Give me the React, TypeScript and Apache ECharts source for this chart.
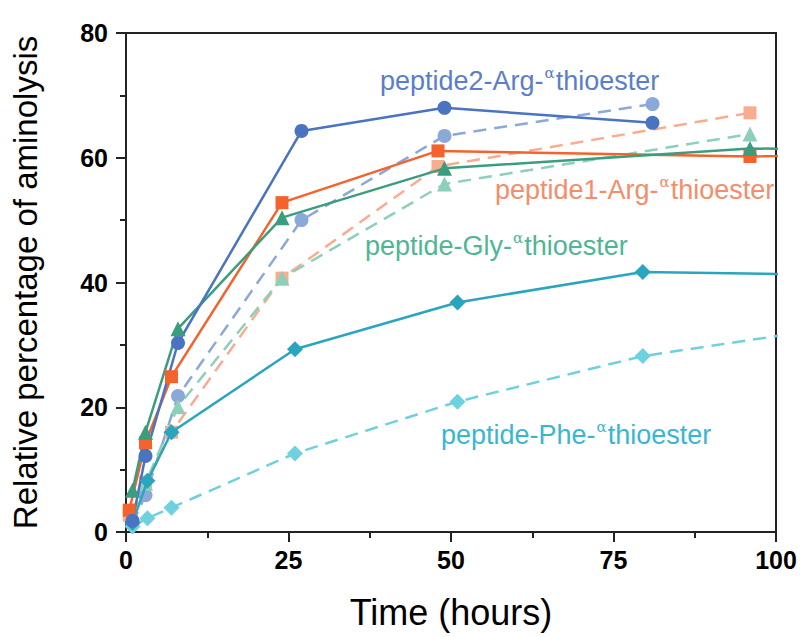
import React, { useEffect, useRef } from "react";
import * as echarts from "echarts";

const xTicks = [0, 25, 50, 75, 100];
const yTicks = [0, 20, 40, 60, 80];

// [hours, %]
const p2Solid = [[1, 1.8], [3, 12.2], [8, 30.3], [27, 64.3], [49, 68.0], [81, 65.6]];
const p2Dash = [[1, 1.3], [3, 5.9], [8, 21.8], [27, 50.0], [49, 63.5], [81, 68.6]];
const p1Solid = [[0.5, 3.5], [3, 14.3], [7, 24.9], [24, 52.8], [48, 61.1], [96, 60.2], [125, 60.8]];
const p1Dash = [[0.5, 2.7], [3, 8.0], [7, 16.0], [24, 40.7], [48, 58.6], [96, 67.2]];
const glySolid = [[1, 6.7], [3, 16.0], [8, 32.6], [24, 50.4], [49, 58.3], [96, 61.5], [125, 61.0]];
const glyDash = [[1, 3.0], [3, 7.8], [8, 20.1], [24, 40.7], [49, 55.8], [96, 63.8]];
const pheSolid = [[1, 1.5], [3.3, 8.2], [7, 16.0], [26, 29.3], [51, 36.8], [79.5, 41.7], [125, 41.0]];
const pheDash = [[1, 0.9], [3.3, 2.2], [7, 3.9], [26, 12.6], [51, 20.9], [79.5, 28.2], [125, 35.3]];

const FONT = "'Liberation Sans', Arial, Helvetica, sans-serif";

function mk(name: string, data: number[][], color: string, symbol: string, size: number, dashed: boolean) {
  return {
    name,
    type: "line",
    data,
    symbol,
    symbolSize: size,
    clip: true,
    itemStyle: { color },
    lineStyle: { color, width: 2.5, type: dashed ? [13, 8] : "solid" },
    z: dashed ? 2 : 3,
  };
}

function label(x: number, y: number, pre: string, color: string) {
  return {
    type: "text",
    x,
    y,
    style: {
      text: `{a|${pre}}{s|α}{a|thioester}`,
      fill: color,
      verticalAlign: "middle",
      rich: {
        a: { fontSize: 27, fontFamily: FONT, fill: color, lineHeight: 31 },
        s: { fontSize: 15, fontFamily: "'DejaVu Serif', serif", fill: color, verticalAlign: "top", lineHeight: 31, padding: [0, 1, 0, 1] },
      },
    },
    z: 10,
  };
}

export default function App() {
  const ref = useRef<HTMLDivElement>(null);
  useEffect(() => {
    if (!ref.current) return;
    const chart = echarts.init(ref.current, null, { renderer: "svg" });
    chart.setOption({
      animation: false,
      backgroundColor: "#fff",
      grid: { left: 126, right: 27, top: 33, bottom: 105, show: true, borderColor: "#222", borderWidth: 2 },
      xAxis: {
        type: "value",
        min: 0,
        max: 100,
        interval: 25,
        name: "Time (hours)",
        nameLocation: "middle",
        nameGap: 62,
        nameTextStyle: { fontSize: 36, fontFamily: FONT, color: "#000" },
        axisLine: { lineStyle: { color: "#222", width: 2 } },
        axisTick: { inside: false, length: 10, lineStyle: { color: "#222", width: 2 } },
        minorTick: { show: true, splitNumber: 2, length: 6, lineStyle: { color: "#222", width: 2 } },
        splitLine: { show: false },
        axisLabel: { fontSize: 25, fontWeight: "bold", fontFamily: FONT, color: "#000", margin: 15, formatter: (v: number) => (xTicks.includes(v) ? String(v) : "") },
      },
      yAxis: {
        type: "value",
        min: 0,
        max: 80,
        interval: 20,
        name: "Relative percentage of aminolysis",
        nameLocation: "middle",
        nameGap: 84,
        nameTextStyle: { fontSize: 33, fontFamily: FONT, color: "#000" },
        axisLine: { lineStyle: { color: "#222", width: 2 } },
        axisTick: { inside: false, length: 10, lineStyle: { color: "#222", width: 2 } },
        minorTick: { show: true, splitNumber: 2, length: 6, lineStyle: { color: "#222", width: 2 } },
        splitLine: { show: false },
        axisLabel: { fontSize: 25, fontWeight: "bold", fontFamily: FONT, color: "#000", margin: 18, formatter: (v: number) => (yTicks.includes(v) ? String(v) : "") },
      },
      series: [
        mk("peptide2 dashed", p2Dash, "#8aa9d8", "circle", 14, true),
        mk("peptide1 dashed", p1Dash, "#f9ac90", "rect", 13, true),
        mk("Gly dashed", glyDash, "#8dd0b9", "triangle", 15, true),
        mk("Phe dashed", pheDash, "#6fd0de", "diamond", 16, true),
        mk("Phe", pheSolid, "#2aa5bf", "diamond", 16, false),
        mk("peptide1", p1Solid, "#f4622d", "rect", 13, false),
        mk("Gly", glySolid, "#3a9e7e", "triangle", 15, false),
        mk("peptide2", p2Solid, "#4a73c1", "circle", 14, false),
      ],
      graphic: [
        label(380, 81, "peptide2-Arg-", "#5b7ec9"),
        label(495, 190, "peptide1-Arg-", "#f58c6a"),
        label(365, 246, "peptide-Gly-", "#4fb694"),
        label(441, 435, "peptide-Phe-", "#3bb6cf"),
      ],
    });
    return () => chart.dispose();
  }, []);
  return <div ref={ref} style={{ width: 803, height: 637, position: "absolute", left: 0, top: 0 }} />;
}
